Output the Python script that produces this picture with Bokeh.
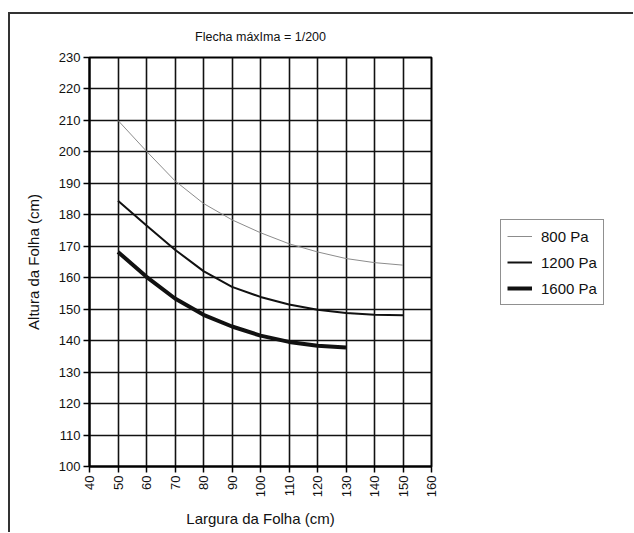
import math
from bokeh.plotting import figure
from bokeh.layouts import row
from bokeh.models import Legend, LegendItem, FixedTicker, Range1d
from bokeh.embed import file_html
from bokeh.resources import INLINE

# Data
largura = [50, 60, 70, 80, 90, 100, 110, 120, 130, 140, 150]
altura_800 = [210.0, 200.2, 190.8, 183.6, 178.4, 174.3, 170.8, 168.2, 166.1, 164.8, 164.0]
altura_1200 = [184.5, 176.6, 168.9, 162.1, 157.1, 153.9, 151.5, 149.8, 148.8, 148.2, 148.1]
largura_1600 = [50, 60, 70, 80, 90, 100, 110, 120, 130]
altura_1600 = [168.2, 160.3, 153.4, 148.2, 144.5, 141.6, 139.6, 138.4, 137.8]

x_ticks = list(range(40, 161, 10))
y_ticks = list(range(100, 231, 10))

title_text = "Flecha máxIma = 1/200"
x_label = "Largura da Folha (cm)"
y_label = "Altura da Folha (cm)"
series_names = ["800 Pa", "1200 Pa", "1600 Pa"]

FONT = "Liberation Sans"
STYLES = [("#8c8c8c", 1), ("#111", 2), ("#111", 4)]
SERIES = [(largura, altura_800), (largura, altura_1200), (largura_1600, altura_1600)]

p = figure(width=431, height=518, x_range=(40, 160), y_range=(100, 230),
           output_backend="svg", toolbar_location=None,
           min_border_left=79, min_border_top=40, min_border_right=10,
           min_border_bottom=66, title=title_text)

p.title.align = "center"
p.title.text_font = FONT
p.title.text_font_size = "12.5px"
p.title.text_font_style = "normal"
p.title.text_color = "#111"
p.title.standoff = 27

p.outline_line_color = "black"
p.outline_line_width = 2

for ax in (p.xaxis[0], p.yaxis[0]):
    ax.axis_line_color = "black"
    ax.axis_line_width = 2
    ax.major_tick_line_color = "black"
    ax.major_tick_line_width = 1.5
    ax.major_tick_in = 0
    ax.major_tick_out = 6
    ax.minor_tick_line_color = None
    ax.major_label_text_font = FONT
    ax.major_label_text_font_size = "13px"
    ax.major_label_text_color = "#111"
    ax.axis_label_text_font = FONT
    ax.axis_label_text_font_size = "15px"
    ax.axis_label_text_font_style = "normal"
    ax.axis_label_text_color = "#111"

p.xaxis.ticker = FixedTicker(ticks=x_ticks)
p.yaxis.ticker = FixedTicker(ticks=y_ticks)
p.xaxis.major_label_orientation = math.pi / 2
p.xaxis.axis_label = x_label
p.yaxis.axis_label = y_label
p.xaxis.major_label_standoff = 3
p.yaxis.major_label_standoff = 3
p.xaxis.axis_label_standoff = 10
p.yaxis.axis_label_standoff = 14

p.xgrid.ticker = FixedTicker(ticks=x_ticks)
p.ygrid.ticker = FixedTicker(ticks=y_ticks)
for g in (p.xgrid[0], p.ygrid[0]):
    g.grid_line_color = "#111"
    g.grid_line_width = 1.6

for (xs, ys), (col, lw) in zip(SERIES, STYLES):
    p.line(xs, ys, line_color=col, line_width=lw)

# legend panel to the right of the plot (its proxy lines lie outside its view)
p2 = figure(width=192, height=518, output_backend="svg", toolbar_location=None,
            x_axis_location=None, y_axis_location=None,
            x_range=Range1d(0, 1), y_range=Range1d(0, 1),
            min_border=0, min_border_left=0, min_border_right=0,
            min_border_top=0, min_border_bottom=0)
p2.grid.visible = False
p2.outline_line_color = None

items = []
for name, (xs, ys), (col, lw) in zip(series_names, SERIES, STYLES):
    rr = p2.line(xs, ys, line_color=col, line_width=lw)
    items.append(LegendItem(label=name, renderers=[rr]))

legend = Legend(items=items, location=(59, 161))
legend.label_text_font = FONT
legend.label_text_font_size = "15px"
legend.label_text_color = "#111"
legend.glyph_width = 25
legend.glyph_height = 20
legend.label_height = 20
legend.spacing = 6
legend.padding = 6
legend.margin = 0
legend.label_standoff = 9
legend.border_line_color = "#222"
legend.border_line_width = 1
legend.background_fill_color = "white"
legend.background_fill_alpha = 1
p2.add_layout(legend, "center")

layout = row(p, p2, spacing=0)
layout.styles = {"margin-left": "8px", "margin-top": "12px",
                 "border-left": "2px solid #333", "border-top": "2px solid #333"}

open("out.html", "w").write(file_html(layout, INLINE))
